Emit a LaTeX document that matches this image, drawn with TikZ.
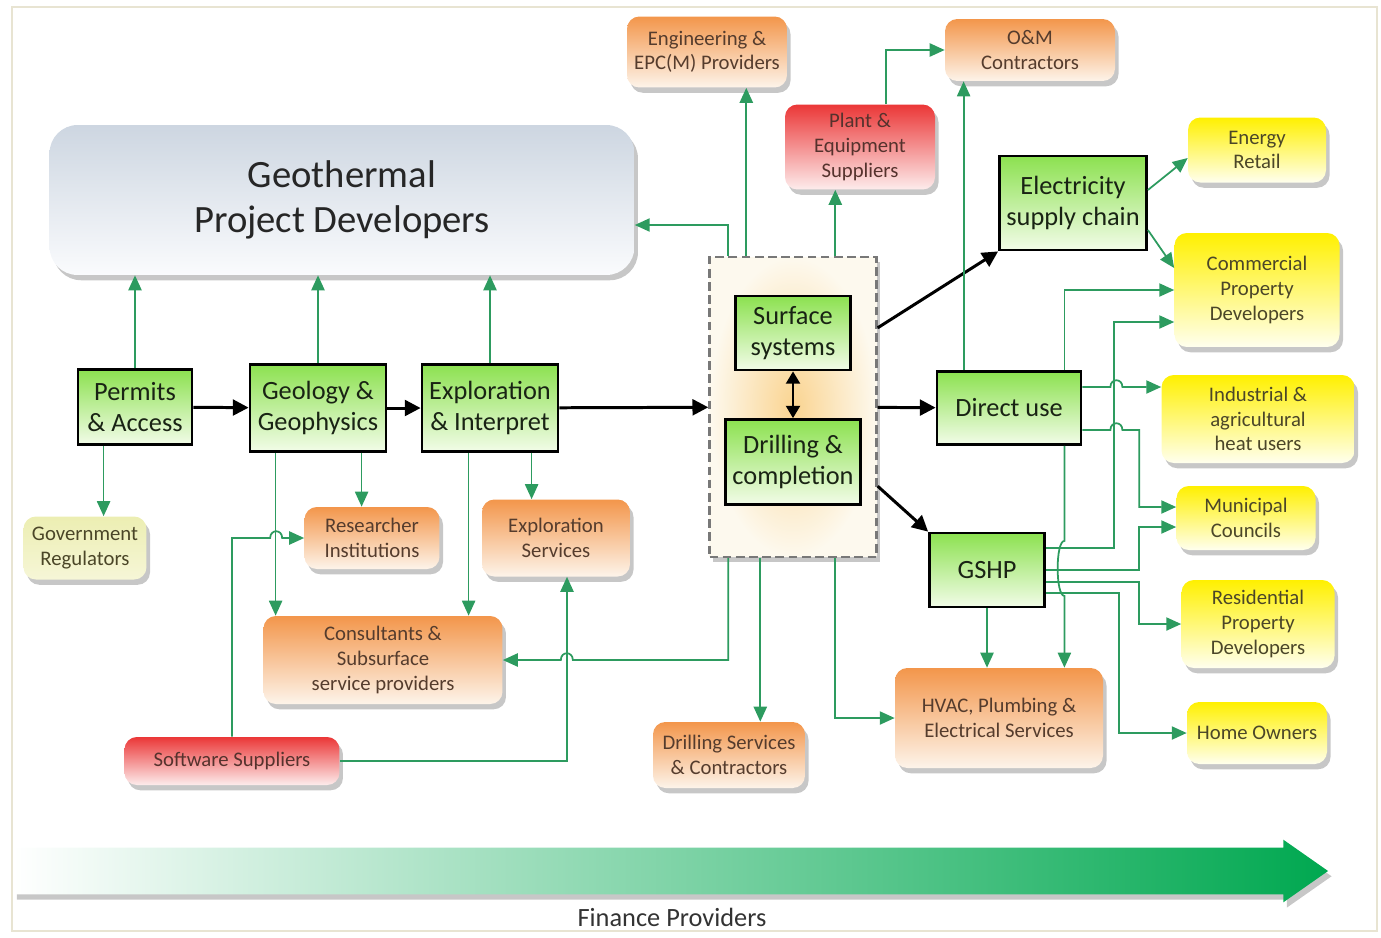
\documentclass[tikz,border=0pt]{standalone}
\usepackage{fontspec}
\setmainfont{Carlito}
\usetikzlibrary{arrows.meta,positioning,calc,shadows,shapes.arrows}
\definecolor{linkgreen}{RGB}{45,155,95}
\definecolor{stagetop}{RGB}{140,225,80}
\definecolor{stagebot}{RGB}{242,252,232}
\definecolor{stagetext}{RGB}{25,35,20}
\definecolor{svctop}{RGB}{243,150,75}
\definecolor{svcbot}{RGB}{253,244,234}
\definecolor{svctext}{RGB}{85,60,45}
\definecolor{suptop}{RGB}{235,55,55}
\definecolor{supbot}{RGB}{253,236,236}
\definecolor{suptext}{RGB}{85,50,45}
\definecolor{usertop}{RGB}{255,240,0}
\definecolor{userbot}{RGB}{255,255,238}
\definecolor{usertext}{RGB}{75,70,40}
\definecolor{govtop}{RGB}{236,238,178}
\definecolor{govbot}{RGB}{246,246,215}
\definecolor{gpdtop}{RGB}{205,214,225}
\definecolor{gpdbot}{RGB}{250,251,253}
\definecolor{coreglow}{RGB}{250,212,145}
\definecolor{corebg}{RGB}{253,249,238}
\definecolor{coredash}{RGB}{120,120,120}
\definecolor{fingreen}{RGB}{0,168,80}
\definecolor{framecol}{RGB}{232,228,210}

\tikzset{
  boxshadow/.style={drop shadow={shadow xshift=2pt, shadow yshift=-3pt, opacity=0.4, fill=black!55}},
  stage/.style={draw=black, line width=1.6pt, rectangle, top color=stagetop, bottom color=stagebot, text=stagetext, font=\fontsize{15}{18}\selectfont, align=center, inner sep=0pt},
  party/.style={rectangle, rounded corners=7pt, boxshadow, font=\fontsize{11.8}{14}\selectfont, align=center, inner sep=0pt},
  service/.style={party, top color=svctop, bottom color=svcbot, text=svctext},
  supplier/.style={party, top color=suptop, bottom color=supbot, text=suptext},
  enduser/.style={party, top color=usertop, bottom color=userbot, text=usertext},
  flow/.style={line width=1.7pt, -{Triangle[length=9pt,width=9pt]}},
  link/.style={draw=linkgreen, line width=1pt, -{Triangle[length=8.5pt,width=7.5pt]}}
}

\begin{document}
\begin{tikzpicture}[x=0.02cm, y=-0.02cm]
    \useasboundingbox (0,0) rectangle (1381,937);
    \draw[framecol, line width=1.2pt] (12,7) rectangle (1377,931);

    \node[party, rounded corners=16pt, top color=gpdtop, bottom color=gpdbot, text=black!85, font=\fontsize{22}{25.5}\selectfont, minimum width=11.7cm, minimum height=3cm] (gpd) at (342,200) {Geothermal\\Project Developers};

    \node[stage, minimum width=2.28cm, minimum height=1.5cm] (permits) at (135,407) {Permits\\\& Access};
    \node[stage, minimum width=2.72cm, minimum height=1.74cm] (geology) at (318,408) {Geology \&\\Geophysics};
    \node[stage, minimum width=2.72cm, minimum height=1.74cm] (explore) at (490,408) {Exploration\\\& Interpret};

    \node[draw=coredash, line width=1.4pt, dash pattern=on 5pt off 2.5pt, inner color=coreglow, outer color=corebg, boxshadow, minimum width=3.34cm, minimum height=6cm] (core) at (793,407) {};
    \node[stage, minimum width=2.3cm, minimum height=1.48cm] (surface) at (793,333) {Surface\\systems};
    \node[stage, minimum width=2.7cm, minimum height=1.7cm] (drilling) at (793,462) {Drilling \&\\completion};

    \node[stage, minimum width=2.94cm, minimum height=1.88cm] (elec) at (1073,203) {Electricity\\supply chain};
    \node[stage, minimum width=2.88cm, minimum height=1.46cm] (direct) at (1009,408) {Direct use};
    \node[stage, minimum width=2.3cm, minimum height=1.48cm] (gshp) at (987,570) {GSHP};

    \node[service, minimum width=3.2cm, minimum height=1.42cm] (epc) at (707,52) {Engineering \&\\EPC(M) Providers};
    \node[service, minimum width=3.4cm, minimum height=1.24cm] (om) at (1030,50) {O\&M\\Contractors};
    \node[supplier, minimum width=3cm, minimum height=1.7cm] (plant) at (860,147) {Plant \&\\Equipment\\Suppliers};
    \node[service, minimum width=2.7cm, minimum height=1.24cm] (research) at (372,538) {Researcher\\Institutions};
    \node[service, minimum width=2.96cm, minimum height=1.54cm] (expserv) at (556,538) {Exploration\\Services};
    \node[service, minimum width=4.78cm, minimum height=1.76cm] (consult) at (383,660) {Consultants \&\\Subsurface\\service providers};
    \node[supplier, minimum width=4.3cm, minimum height=0.96cm] (software) at (232,761) {Software Suppliers};
    \node[service, minimum width=3.04cm, minimum height=1.32cm] (drillserv) at (729,755) {Drilling Services\\\& Contractors};
    \node[service, minimum width=4.16cm, minimum height=2cm] (hvac) at (999,718) {HVAC, Plumbing \&\\Electrical Services};
    \node[party, top color=govtop, bottom color=govbot, text=usertext, minimum width=2.46cm, minimum height=1.26cm] (gov) at (85,548) {Government\\Regulators};

    \node[enduser, minimum width=2.76cm, minimum height=1.3cm] (retail) at (1257,150) {Energy\\Retail};
    \node[enduser, minimum width=3.3cm, minimum height=2.28cm] (comm) at (1257,290) {Commercial\\Property\\Developers};
    \node[enduser, minimum width=3.86cm, minimum height=1.76cm] (ind) at (1258,419) {Industrial \&\\agricultural\\heat users};
    \node[enduser, minimum width=2.78cm, minimum height=1.28cm] (muni) at (1246,518) {Municipal\\Councils};
    \node[enduser, minimum width=3.06cm, minimum height=1.76cm] (resi) at (1258,624) {Residential\\Property\\Developers};
    \node[enduser, minimum width=2.8cm, minimum height=1.24cm] (home) at (1257,733) {Home Owners};

    \node[single arrow, single arrow head extend=0.16cm, single arrow tip angle=70, minimum height=26.3cm, inner xsep=0pt, inner ysep=0.46cm, left color=white, right color=fingreen, boxshadow] (finance) at (654,871) {};
    \node[font=\fontsize{15}{17}\selectfont, text=black!80] (financetext) at (672,917) {Finance Providers};

    \coordinate (coreN1) at ($(core.north west)+(20,0)$);
    \coordinate (coreN2) at ($(core.north west)+(38,0)$);
    \coordinate (coreN3) at ($(core.north west)+(127,0)$);
    \coordinate (coreS1) at ($(core.south west)+(20,0)$);
    \coordinate (coreS2) at ($(core.south west)+(52,0)$);
    \coordinate (coreS3) at ($(core.south west)+(127,0)$);
    \coordinate (directN1) at ($(direct.north west)+(28,0)$);
    \coordinate (directN2) at ($(direct.north east)+(-18,0)$);
    \coordinate (directS) at ($(direct.south east)+(-18,0)$);
    \coordinate (permitsS) at ($(permits.south west)+(27,0)$);
    \coordinate (geologyS1) at ($(geology.south west)+(27,0)$);
    \coordinate (geologyS2) at ($(geology.south west)+(113,0)$);
    \coordinate (exploreS1) at ($(explore.south west)+(48,0)$);
    \coordinate (exploreS2) at ($(explore.south west)+(111,0)$);

    \draw[flow] (permits) -- (geology);
    \draw[flow] (geology) -- (explore);
    \draw[flow] (explore) -- (core);
    \draw[flow] ($(core.north east)+(0,72)$) -- (elec.south west);
    \draw[flow] (core) -- (direct);
    \draw[flow] ($(core.south east)+(0,-72)$) -- (gshp.north west);
    \draw[line width=1.2pt, {Triangle[length=7pt,width=8pt]}-{Triangle[length=7pt,width=8pt]}] (surface) -- (drilling);

    \foreach \s in {permits, geology, explore}
        \draw[link] (\s.north) -- (\s.north |- gpd.south);
    \draw[link] (coreN1) |- ($(gpd.east)+(0,25)$);
    \draw[link] (coreN2) -- (coreN2 |- epc.south);
    \draw[link] (coreN3) -- (coreN3 |- plant.south);
    \draw[link] ($(plant.north)+(26,0)$) |- (om.west);
    \draw[link] (directN1) -- (directN1 |- om.south);

    \draw[link] ($(elec.east)+(0,-13)$) -- ($(retail.west)+(0,8)$);
    \draw[link] ($(elec.east)+(0,27)$) -- ($(comm.west)+(0,-22)$);
    \draw[link] (directN2) |- (comm.west);
    \draw[link] ($(gshp.east)+(0,-22)$) -| ($(comm.west)+(-60,32)$) -- ($(comm.west)+(0,32)$);
    \draw[link] ($(direct.east)+(0,-21)$) -- ++(28,0) .. controls +(0,-9) and +(0,-9) .. ++(12,0) -- ($(ind.west)+(0,-32)$);
    \draw[link] ($(direct.east)+(0,22)$) -- ++(28,0) .. controls +(0,-9) and +(0,-9) .. ++(12,0) -| ($(muni.west)+(-37,-11)$) -- ($(muni.west)+(0,-11)$);
    \draw[link] (gshp.east) -| ($(muni.west)+(-37,9)$) -- ($(muni.west)+(0,9)$);
    \draw[link] ($(gshp.east)+(0,12)$) -| ($(resi.west)+(-42,0)$) -- (resi.west);
    \draw[link] ($(gshp.east)+(0,23)$) -| ($(home.west)+(-68,0)$) -- (home.west);
    \draw[link] (directS) -- ++(0,95) .. controls +(-9,0) and +(-9,0) .. ++(0,55) -- (directS |- hvac.north);
    \draw[link] (gshp.south) -- (gshp.south |- hvac.north);

    \draw[link] (coreS3) |- (hvac.west);
    \draw[link] (coreS2) -- (coreS2 |- drillserv.north);
    \draw[link] (coreS1) |- ($(consult.east)+(70,0)$) .. controls +(0,-9) and +(0,-9) .. ++(-12,0) -- (consult.east);
    \draw[link] (software.east) -| ($(expserv.south)+(11,0)$);
    \draw[link] (software.north) |- ($(research.west)+(-34,0)$) .. controls +(0,-9) and +(0,-9) .. ++(12,0) -- (research.west);

    \draw[link] (permitsS) -- (permitsS |- gov.north);
    \draw[link] (geologyS1) -- (geologyS1 |- consult.north);
    \draw[link] (geologyS2) -- (geologyS2 |- research.north);
    \draw[link] (exploreS1) -- (exploreS1 |- consult.north);
    \draw[link] (exploreS2) -- (exploreS2 |- expserv.north);
\end{tikzpicture}
\end{document}
